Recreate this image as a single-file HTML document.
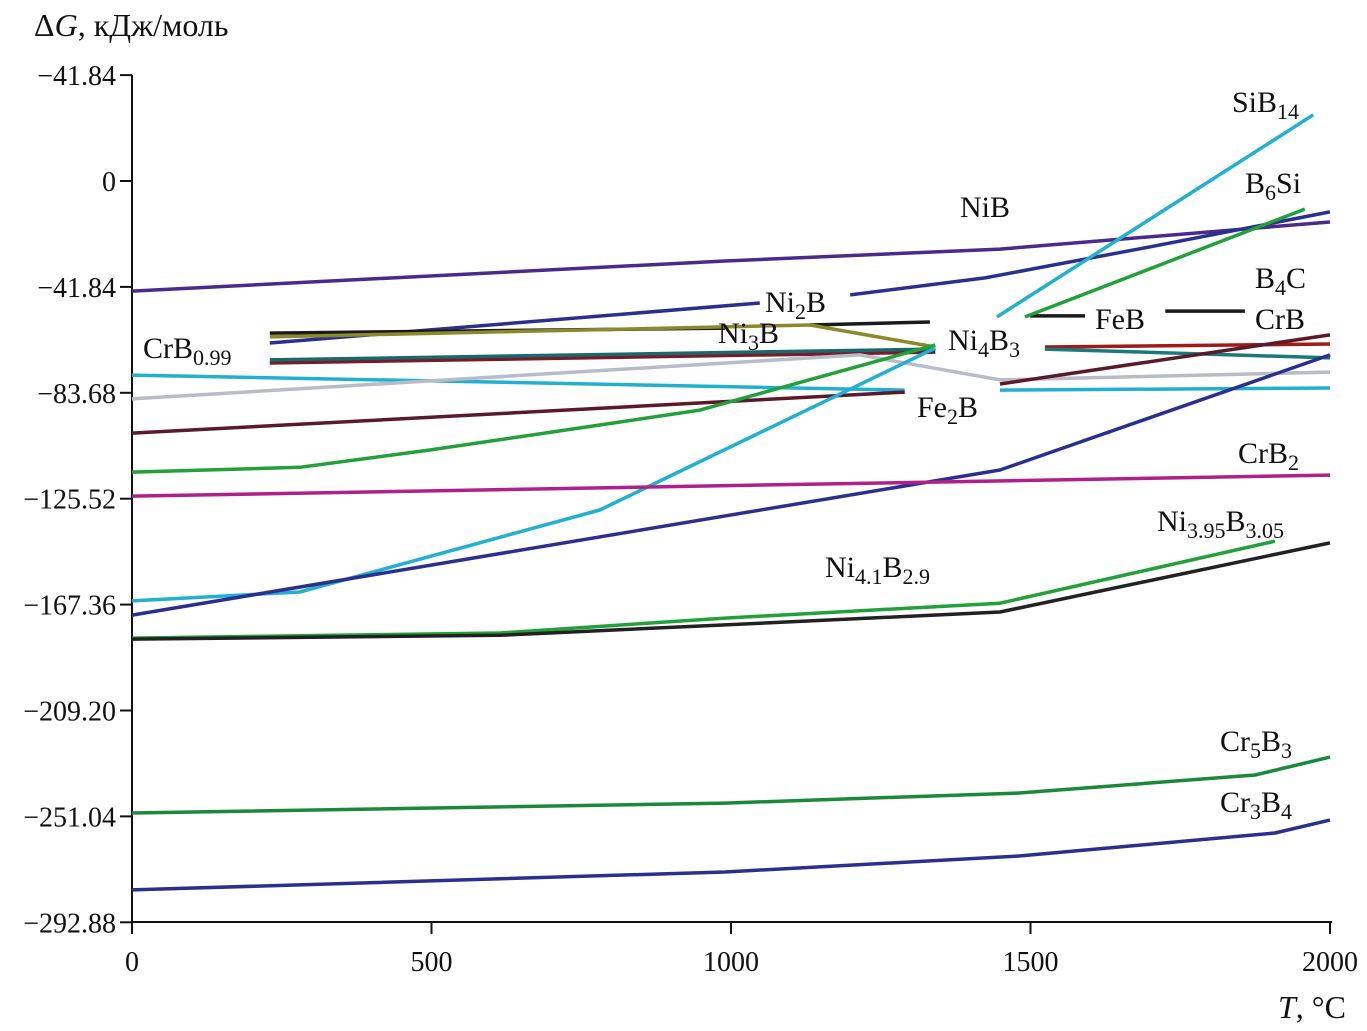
<!DOCTYPE html>
<html><head><meta charset="utf-8"><style>
html,body{margin:0;padding:0;background:#fff}
svg{display:block;font-family:"Liberation Serif","DejaVu Serif",serif}
</style></head><body>
<svg id="chart" width="1367" height="1031" viewBox="0 0 1367 1031" xmlns="http://www.w3.org/2000/svg">
<g id="axes"></g>
<g id="series"></g>
<g id="labels" font-size="30" fill="#111"></g>
<text x="34" y="36" font-size="32" fill="#111">Δ<tspan font-style="italic">G</tspan>, кДж/моль</text>
<text x="1278" y="1018" font-size="32" fill="#111"><tspan font-style="italic">T</tspan>, °C</text>
</svg>
<script>
const xTicks=[0,500,1000,1500,2000];
const yTicks=[41.84,0,-41.84,-83.68,-125.52,-167.36,-209.20,-251.04,-292.88];
const yTickLabels=["−41.84","0","−41.84","−83.68","−125.52","−167.36","−209.20","−251.04","−292.88"];
const NS="http://www.w3.org/2000/svg";
function X(t){return 132+t*0.599;}
function Y(g){return 181-g/0.3951;}
function el(tag,attrs,parent){const e=document.createElementNS(NS,tag);for(const k in attrs)e.setAttribute(k,attrs[k]);parent.appendChild(e);return e;}
const axes=document.getElementById('axes');
let a=el('line',{x1:132,y1:75,x2:132,y2:922,stroke:'#111','stroke-width':2},axes);


a=el('line',{x1:132,y1:922,x2:1332,y2:922,stroke:'#111','stroke-width':2},axes);


yTicks.forEach((v,i)=>{
 const t=el('line',{x1:120,x2:132,y1:Y(v),y2:Y(v),stroke:'#111','stroke-width':2},axes);
 
 
 const l=el('text',{x:116,y:Y(v)+10,'text-anchor':'end','font-size':28,fill:'#111'},axes);
 l.textContent=yTickLabels[i];
 
 
});
xTicks.forEach(v=>{
 const t=el('line',{x1:X(v),x2:X(v),y1:922,y2:934,stroke:'#111','stroke-width':2},axes);
 
 
 const l=el('text',{x:X(v),y:971,'text-anchor':'middle','font-size':28,fill:'#111'},axes);
 l.textContent=String(v);
 
 
});
const nibT=[0,990,1449,2000], nibG=[-43.5,-31.6,-26.9,-16.2];
const ni2bT1=[230,1048], ni2bG1=[-64.0,-48.2];
const ni2bT2=[1199,1424,1700,2000], ni2bG2=[-45.0,-38.3,-26,-12.2];
const ni3bBlackT=[230,990], ni3bBlackG=[-60.1,-58.1];
const ni3bBlack2T=[1132,1332], ni3bBlack2G=[-56.9,-55.7];
const febT=[1499,1591], febG=[-53.3,-53.3];
const crbBlackT=[1725,1858], crbBlackG=[-51.4,-51.4];
const oliveT=[230,1132,1341], oliveG=[-61.6,-56.9,-65.6];
const redT1=[230,1341], redG1=[-71.9,-67.6];
const redT2=[1524,2000], redG2=[-65.6,-64.4];
const tealT1=[230,1341], tealG1=[-70.7,-66.4];
const tealT2=[1524,2000], tealG2=[-66.4,-69.9];
const crb099T1=[0,1290], crb099G1=[-76.7,-82.6];
const crb099T2=[1449,2000], crb099G2=[-82.6,-81.8];
const grayT=[0,1215,1449,2000], grayG=[-86.1,-68.7,-78.6,-75.5];
const fe2bT1=[0,1290], fe2bG1=[-99.6,-83.4];
const fe2bT2=[1449,2000], fe2bG2=[-80.2,-60.8];
const ni4b3T=[0,280,497,781,948,1341], ni4b3G=[-115.0,-113.1,-106.3,-96.4,-90.5,-64.8];
const b6siT=[1491,1958], b6siG=[-53.7,-11.1];
const sib14T1=[0,280,781,1341], sib14G1=[-165.9,-162.4,-130.0,-66.0];
const sib14T2=[1444,1972], sib14G2=[-53.7,26.1];
const b4cT=[0,1449,2000], b4cG=[-171.5,-114.2,-68.7];
const crb2T=[0,2000], crb2G=[-124.5,-116.2];
const ni395T=[0,614,990,1449,1908], ni395G=[-180.6,-178.6,-172.7,-166.8,-142.3];
const ni41T=[0,614,990,1449,2000], ni41G=[-181.0,-179.5,-175.4,-170.3,-143.0];
const cr5b3T=[0,990,1481,1875,2000], cr5b3G=[-249.7,-245.8,-241.8,-234.7,-227.6];
const cr3b4T=[0,990,1481,1908,2000], cr3b4G=[-280.1,-273.0,-266.7,-257.6,-252.5];
const series=[
 ['nib-line',nibT,nibG,'#4a2a8c'],
 ['ni2b-line-low',ni2bT1,ni2bG1,'#2b2f8f'],
 ['ni2b-line-high',ni2bT2,ni2bG2,'#2b2f8f'],
 ['ni3b-black-line',ni3bBlackT,ni3bBlackG,'#1a1a1a'],
 ['ni3b-black-line-2',ni3bBlack2T,ni3bBlack2G,'#1a1a1a'],
 ['feb-line',febT,febG,'#1a1a1a'],
 ['crb-black-line',crbBlackT,crbBlackG,'#1a1a1a'],
 ['ni3b-olive-line',oliveT,oliveG,'#8a8a2a'],
 ['red-line-low',redT1,redG1,'#7a1a2a'],
 ['red-line-high',redT2,redG2,'#a01a1a'],
 ['teal-line-low',tealT1,tealG1,'#1a6a6a'],
 ['teal-line-high',tealT2,tealG2,'#1a7a7a'],
 ['crb099-line-low',crb099T1,crb099G1,'#22b0d0'],
 ['crb099-line-high',crb099T2,crb099G2,'#22b0d0'],
 ['gray-line',grayT,grayG,'#b8bcc8'],
 ['fe2b-line-low',fe2bT1,fe2bG1,'#5a1a2a'],
 ['fe2b-line-high',fe2bT2,fe2bG2,'#5a1a2a'],
 ['ni4b3-line',ni4b3T,ni4b3G,'#22a03a'],
 ['b6si-line',b6siT,b6siG,'#22a03a'],
 ['sib14-line-low',sib14T1,sib14G1,'#22b0d0'],
 ['sib14-line-high',sib14T2,sib14G2,'#22b0d0'],
 ['b4c-line',b4cT,b4cG,'#2b2f8f'],
 ['crb2-line',crb2T,crb2G,'#b0208a'],
 ['ni395b305-line',ni395T,ni395G,'#22a03a'],
 ['ni41b29-line',ni41T,ni41G,'#222222'],
 ['cr5b3-line',cr5b3T,cr5b3G,'#1a8a3a'],
 ['cr3b4-line',cr3b4T,cr3b4G,'#2b2f8f']
];
const sg=document.getElementById('series');
series.forEach(s=>{
 const d=s[1].map((t,i)=>(i?'L':'M')+X(t).toFixed(1)+','+Y(s[2][i]).toFixed(1)).join(' ');
 const p=el('path',{d:d,fill:'none',stroke:s[3],'stroke-width':3.5,'stroke-linejoin':'round'},sg);
 
 
});
const labels=[
 ['SiB','14','',1232,112],['B','6','Si',1245,193],['NiB','','',960,217],['B','4','C',1255,288],
 ['Ni','2','B',765,312],['FeB','','',1095,329],['CrB','','',1255,329],['Ni','3','B',718,343],
 ['Ni','4','B',948,350,'3'],['CrB','0.99','',143,358],['Fe','2','B',917,417],['CrB','2','',1238,463],
 ['Ni','3.95','B',1157,531,'3.05'],['Ni','4.1','B',825,577,'2.9'],['Cr','5','B',1220,751,'3'],['Cr','3','B',1220,812,'4']
];
const lg=document.getElementById('labels');
labels.forEach(l=>{
 const t=el('text',{x:l[3],y:l[4]},lg);
 let h=l[0];
 if(l[1])h+='<tspan font-size="22" dy="7">'+l[1]+'</tspan>';
 if(l[2])h+='<tspan dy="'+(l[1]?-7:0)+'">'+l[2]+'</tspan>';
 if(l[5])h+='<tspan font-size="22" dy="7">'+l[5]+'</tspan>';
 t.innerHTML=h;
 
 
});
</script>
</body></html>
